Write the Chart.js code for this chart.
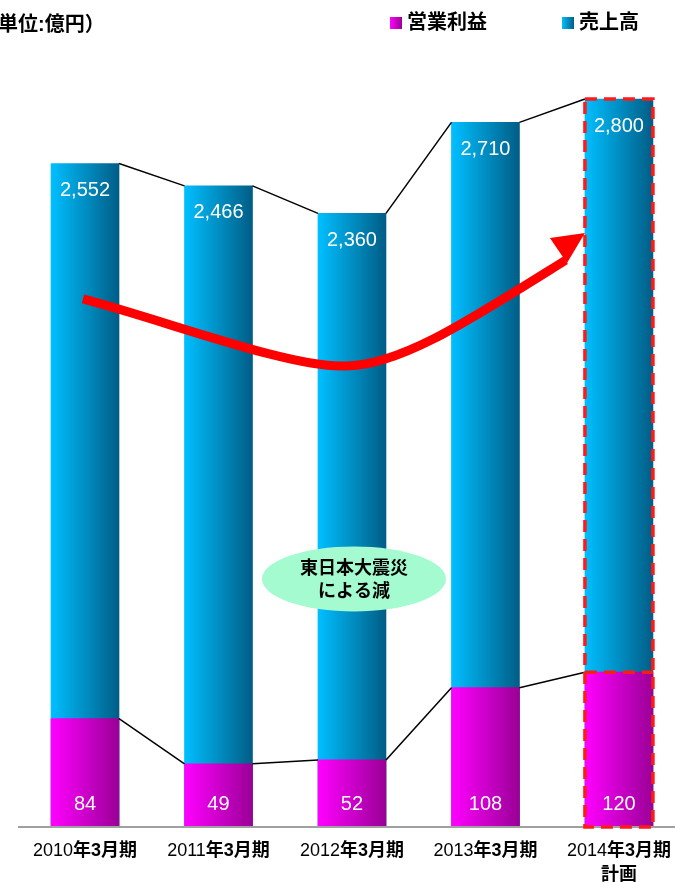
<!DOCTYPE html>
<html lang="ja">
<head>
<meta charset="utf-8">
<script src="https://cdn.jsdelivr.net/npm/chart.js@4.4.1/dist/chart.umd.min.js"></script>
<style>
  html, body { margin: 0; padding: 0; background: #fff; overflow: hidden; }
  #wrap { position: relative; width: 675px; height: 883px; }
</style>
</head>
<body>
<div id="wrap"><canvas id="myChart"></canvas></div>
<script>
// data
const years = ["2010", "2011", "2012", "2013", "2014"];
const periodSuffix = "年3月期";
const subLabels = ["", "", "", "", "計画"];
const sales = [2552, 2466, 2360, 2710, 2800];
const profit = [84, 49, 52, 108, 120];
const seriesNames = ["営業利益", "売上高"];
const unitText = "単位:億円）";
const noteLines = ["東日本大震災", "による減"];
const planIndex = 4;

// annotation geometry, in chart value units (x = category index, y = 売上高 scale)
const arrowCurve = [
  { x: -0.015, y: 2031 },
  { x: 0.637, y: 1942 }, { x: 1.536, y: 1765 }, { x: 1.948, y: 1773 },
  { x: 2.36, y: 1773 }, { x: 2.884, y: 1950 }, { x: 3.6, y: 2180 }
];
const arrowHead = [{ x: 3.745, y: 2285 }, { x: 3.483, y: 2265 }, { x: 3.611, y: 2169 }];
const notePos = { x: 2.015, y: 954 };

const latin = '"Liberation Sans", Arial, "Noto Sans CJK JP", sans-serif';

function barGradient(c, from, to) {
  const chart = c.chart;
  if (!chart.chartArea || !c.parsed) return from;
  const cx = chart.scales.x.getPixelForValue(c.parsed.x);
  const g = chart.ctx.createLinearGradient(cx - 34, 0, cx + 34, 0);
  g.addColorStop(0, from);
  g.addColorStop(1, to);
  return g;
}

const magenta = ["#ff00ff", "#9a0096"];
const blue = ["#00bfff", "#005d86"];

const decorations = {
  id: "decorations",
  afterDatasetsDraw(chart) {
    const { ctx, chartArea, scales } = chart;
    const px = (p) => [scales.x.getPixelForValue(p.x), scales.y.getPixelForValue(p.y)];
    const profitBars = chart.getDatasetMeta(0).data;
    const salesBars = chart.getDatasetMeta(1).data;
    ctx.save();

    // baseline
    ctx.strokeStyle = "#a0a0a0";
    ctx.lineWidth = 2;
    ctx.beginPath();
    ctx.moveTo(chartArea.left, chartArea.bottom);
    ctx.lineTo(chartArea.right, chartArea.bottom);
    ctx.stroke();

    // connector lines between bar tops
    ctx.strokeStyle = "#000";
    ctx.lineWidth = 1.5;
    [profitBars, salesBars].forEach((bars) => {
      for (let i = 0; i < bars.length - 1; i++) {
        const a = bars[i], b = bars[i + 1];
        ctx.beginPath();
        ctx.moveTo(a.x + a.width / 2, a.y);
        ctx.lineTo(b.x - b.width / 2, b.y);
        ctx.stroke();
      }
    });

    // value labels
    ctx.fillStyle = "#fff";
    ctx.font = "20px " + latin;
    ctx.textAlign = "center";
    ctx.textBaseline = "middle";
    salesBars.forEach((el, i) => {
      ctx.fillText(sales[i].toLocaleString("en-US"), el.x, el.y + 27);
    });
    profitBars.forEach((el, i) => {
      ctx.fillText(profit[i].toLocaleString("en-US"), el.x, chartArea.bottom - 23);
    });

    // red arrow
    const p = arrowCurve.map(px);
    ctx.strokeStyle = "#ff0000";
    ctx.fillStyle = "#ff0000";
    ctx.lineWidth = 9;
    ctx.lineCap = "butt";
    ctx.beginPath();
    ctx.moveTo(p[0][0], p[0][1]);
    ctx.bezierCurveTo(p[1][0], p[1][1], p[2][0], p[2][1], p[3][0], p[3][1]);
    ctx.bezierCurveTo(p[4][0], p[4][1], p[5][0], p[5][1], p[6][0], p[6][1]);
    ctx.stroke();
    const h = arrowHead.map(px);
    ctx.beginPath();
    ctx.moveTo(h[0][0], h[0][1]);
    ctx.lineTo(h[1][0], h[1][1]);
    ctx.lineTo(h[2][0], h[2][1]);
    ctx.closePath();
    ctx.fill();

    // dashed frame around the plan bar
    const s = salesBars[planIndex], m = profitBars[planIndex];
    ctx.strokeStyle = "#ff1a1a";
    ctx.lineWidth = 3.5;
    ctx.setLineDash([12, 7]);
    ctx.strokeRect(s.x - s.width / 2, s.y, s.width, chartArea.bottom - s.y);
    ctx.beginPath();
    ctx.moveTo(m.x - m.width / 2, m.y);
    ctx.lineTo(m.x + m.width / 2, m.y);
    ctx.stroke();
    ctx.setLineDash([]);

    // note ellipse
    const [nx, ny] = px(notePos);
    ctx.fillStyle = "#a3fbcf";
    ctx.beginPath();
    ctx.ellipse(nx, ny, 92, 32.5, 0, 0, Math.PI * 2);
    ctx.fill();
    ctx.fillStyle = "#000";
    ctx.font = "bold 18px " + latin;
    ctx.fillText(noteLines[0], nx, ny - 10);
    ctx.fillText(noteLines[1], nx, ny + 13);

    // x labels: year regular, suffix bold
    salesBars.forEach((el, i) => {
      const y = chartArea.bottom + 24;
      ctx.textAlign = "left";
      ctx.font = "18px " + latin;
      const w1 = ctx.measureText(years[i]).width;
      ctx.font = "bold 18px " + latin;
      const w2 = ctx.measureText(periodSuffix).width;
      const x0 = el.x - (w1 + w2) / 2;
      ctx.font = "18px " + latin;
      ctx.fillText(years[i], x0, y);
      ctx.font = "bold 18px " + latin;
      ctx.fillText(periodSuffix, x0 + w1, y);
      if (subLabels[i]) {
        ctx.textAlign = "center";
        ctx.fillText(subLabels[i], el.x, y + 24);
      }
    });

    // legend + unit
    ctx.textAlign = "left";
    ctx.font = "bold 20px " + latin;
    [[390, magenta], [562, blue]].forEach(([lx, cols], i) => {
      const g = ctx.createLinearGradient(lx, 0, lx + 12, 0);
      g.addColorStop(0, cols[0]);
      g.addColorStop(1, cols[1]);
      ctx.fillStyle = g;
      ctx.fillRect(lx, 17, 12, 12);
      ctx.fillStyle = "#000";
      ctx.fillText(seriesNames[i], lx + 17, 23);
    });
    ctx.fillText(unitText, -2, 25);

    ctx.restore();
  }
};

new Chart(document.getElementById("myChart"), {
  type: "bar",
  data: {
    datasets: [
      {
        label: seriesNames[0],
        data: profit.map((v, i) => ({ x: i, y: v })),
        yAxisID: "y2",
        backgroundColor: (c) => barGradient(c, magenta[0], magenta[1]),
      },
      {
        label: seriesNames[1],
        data: sales.map((v, i) => ({ x: i, y: v })),
        yAxisID: "y",
        backgroundColor: (c) => barGradient(c, blue[0], blue[1]),
      },
    ],
  },
  options: {
    responsive: true,
    maintainAspectRatio: false,
    animation: false,
    layout: { padding: { left: 18, right: 0, top: 40, bottom: 56 } },
    datasets: { bar: { grouped: false, barThickness: 68, borderWidth: 0 } },
    scales: {
      x: { type: "linear", min: -0.502, max: 4.42, offset: false, display: false },
      y: { min: 0, max: 3027, display: false },
      y2: { min: 0, max: 610, display: false, position: "right" },
    },
    plugins: { legend: { display: false }, tooltip: { enabled: false } },
  },
  plugins: [decorations],
});
</script>
</body>
</html>
